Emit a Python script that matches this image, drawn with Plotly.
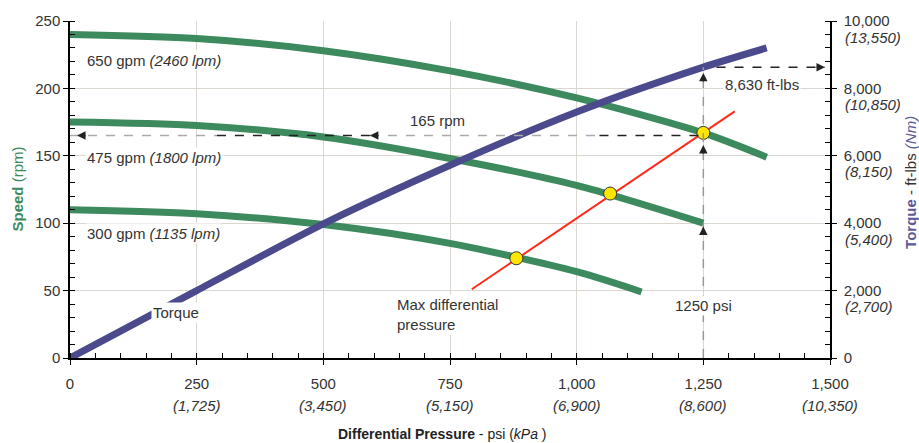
import plotly.graph_objects as go

# ---------------- data ----------------
psi_650 = [0, 250, 500, 750, 1000, 1250, 1375]
rpm_650 = [240, 237, 228, 213, 193, 167, 149]
psi_475 = [0, 250, 500, 750, 1000, 1250]
rpm_475 = [175, 172.5, 164, 148, 128, 100]
psi_300 = [0, 250, 500, 750, 1000, 1128]
rpm_300 = [110, 107, 99, 85, 64, 49]
psi_torque = [0, 250, 500, 750, 1000, 1250, 1375]
torque_ftlb = [0, 2000, 3980, 5720, 7300, 8630, 9200]
psi_maxdiff = [793, 1312]
rpm_maxdiff = [51, 183]
psi_points = [881, 1066, 1250]
rpm_points = [74, 122, 167]

x_ticks = [0, 250, 500, 750, 1000, 1250, 1500]
x_ticktext = ["0", "250", "500", "750", "1,000", "1,250", "1,500"]
x_kpa = ["", "(1,725)", "(3,450)", "(5,150)", "(6,900)", "(8,600)", "(10,350)"]
y_ticks = [0, 50, 100, 150, 200, 250]
y2_ticks = [0, 2000, 4000, 6000, 8000, 10000]
y2_ticktext = ["0", "2,000", "4,000", "6,000", "8,000", "10,000"]
y2_nm = ["", "(2,700)", "(5,400)", "(8,150)", "(10,850)", "(13,550)"]

sel_psi = 1250
sel_rpm = 165
sel_torque = 8630

GREEN = "#3d8a5f"
PURPLE = "#4a4a8c"
RED = "#ff2a1a"
GRID = "#dcd6d1"
TXT = "#333333"
FONT = "Liberation Sans, Arial, sans-serif"
FS = 15

fig = go.Figure()

for xs, ys in [(psi_650, rpm_650), (psi_475, rpm_475), (psi_300, rpm_300)]:
    fig.add_trace(go.Scatter(x=xs, y=ys, mode="lines", line=dict(color=GREEN, width=7, shape="spline", smoothing=0.8),
                             hoverinfo="skip", showlegend=False))

fig.add_trace(go.Scatter(x=psi_torque, y=torque_ftlb, yaxis="y2", mode="lines",
                         line=dict(color=PURPLE, width=7, shape="spline", smoothing=0.8),
                         hoverinfo="skip", showlegend=False))

fig.add_trace(go.Scatter(x=psi_maxdiff, y=rpm_maxdiff, mode="lines", line=dict(color=RED, width=2),
                         hoverinfo="skip", showlegend=False))

fig.add_trace(go.Scatter(x=psi_points, y=rpm_points, mode="markers",
                         marker=dict(color="#ffe600", size=13, line=dict(color="#333333", width=1)),
                         hoverinfo="skip", showlegend=False))

# ---------------- dashed guide lines ----------------
sel_rpm_top = sel_torque / 40.0
shapes = []
shapes.append(dict(type="line", xref="x", yref="y", x0=sel_psi, x1=sel_psi, y0=0, y1=sel_rpm_top,
                   line=dict(color="#999999", width=1.5, dash="dash"), layer="above"))
hsegs = [(0, 290, "#aaaaaa"), (290, 592, "#222222"), (592, 1045, "#aaaaaa"), (1045, sel_psi, "#222222")]
for a, b, c in hsegs:
    shapes.append(dict(type="line", xref="x", yref="y", x0=a, x1=b, y0=sel_rpm, y1=sel_rpm,
                       line=dict(color=c, width=1.5, dash="dash"), layer="above"))
shapes.append(dict(type="line", xref="x", yref="y2", x0=1276, x1=1490, y0=sel_torque, y1=sel_torque,
                   line=dict(color="#222222", width=1.5, dash="dash"), layer="above"))

ann = []
def arrowhead(x, y, ax, ay, yref="y", color="#222222"):
    ann.append(dict(x=x, y=y, xref="x", yref=yref, ax=ax, ay=ay, text="", showarrow=True,
                    arrowhead=2, arrowsize=1.3, arrowwidth=1.3, arrowcolor=color))

arrowhead(1250, 97.5, 0, 10)
arrowhead(1250, 158, 0, 10)
arrowhead(1250, 211.5, 0, 10)
arrowhead(592, sel_rpm, 10, 0)
arrowhead(14, sel_rpm, 10, 0)
arrowhead(1490, sel_torque, -10, 0, yref="y2")

def label(x, y, text, xanchor="left", bg="white", color=TXT, size=FS, yref="y", align="left"):
    ann.append(dict(x=x, y=y, xref="x", yref=yref, text=text, showarrow=False, xanchor=xanchor,
                    yanchor="middle", align=align, bgcolor=bg, borderpad=1,
                    font=dict(family=FONT, size=size, color=color)))

label(30, 220.5, "650 gpm <i>(2460 lpm)</i>")
label(30, 148.5, "475 gpm <i>(1800 lpm)</i>")
label(30, 92.5, "300 gpm <i>(1135 lpm)</i>")
label(209, 34, "Torque", xanchor="center")
label(641, 32, "Max differential<br>pressure")
label(726, 176.5, "165 rpm", xanchor="center", bg="rgba(0,0,0,0)")
label(1251, 39, "1250 psi", xanchor="center")
label(1365, 203, "8,630 ft-lbs", xanchor="center")

for xv, t in zip(x_ticks, x_kpa):
    if t:
        ann.append(dict(x=xv, y=0, xref="x", yref="paper", yshift=-47, text="<i>" + t + "</i>",
                        showarrow=False, xanchor="center", yanchor="middle",
                        font=dict(family=FONT, size=FS, color=TXT)))
for yv, t in zip(y2_ticks, y2_nm):
    if t:
        ann.append(dict(x=1, y=yv, xref="paper", yref="y2", xshift=13, yshift=-16, text="<i>" + t + "</i>",
                        showarrow=False, xanchor="left", yanchor="middle",
                        font=dict(family=FONT, size=FS, color=TXT)))

ann.append(dict(x=0.49, y=0, xref="paper", yref="paper", yshift=-76, showarrow=False,
                text="<b>Differential Pressure</b> - psi (<i>kPa</i> )", xanchor="center", yanchor="middle",
                font=dict(family=FONT, size=14, color="#222222")))
ann.append(dict(x=-0.0697, y=0.5, xref="paper", yref="paper", showarrow=False, textangle=-90,
                text="<b>Speed</b> (rpm)", xanchor="center", yanchor="middle",
                font=dict(family=FONT, size=FS, color=GREEN)))
ann.append(dict(x=1.105, y=0.522, xref="paper", yref="paper", showarrow=False, textangle=-90,
                text="<b>Torque</b><span style='color:#333333'> - ft-lbs </span><i>(Nm)</i>",
                xanchor="center", yanchor="middle",
                font=dict(family=FONT, size=FS, color="#5a5a9a")))

tickfont = dict(family=FONT, size=FS, color=TXT)
common_minor = dict(ticks="inside", ticklen=5, tickcolor="black", tickwidth=1, showgrid=False)

fig.update_layout(
    width=919, height=443,
    margin=dict(l=70, r=89, t=17, b=85),
    plot_bgcolor="white", paper_bgcolor="white",
    showlegend=False,
    shapes=shapes, annotations=ann,
    xaxis=dict(range=[0, 1500], tickvals=x_ticks, ticktext=x_ticktext, ticks="outside", ticklen=5,
               tickcolor="black", tickwidth=1, showline=True, linecolor="black", linewidth=1.5,
               showgrid=True, gridcolor=GRID, gridwidth=1, zeroline=False, tickfont=tickfont,
               ticklabelstandoff=6,
               minor=dict(dtick=50, **common_minor)),
    yaxis=dict(range=[0, 250], tickvals=y_ticks, ticks="outside", ticklen=5, tickcolor="black",
               tickwidth=1, showline=True, linecolor="black", linewidth=1.5, showgrid=True,
               gridcolor=GRID, gridwidth=1, zeroline=False, tickfont=tickfont,
               minor=dict(dtick=10, **common_minor)),
    yaxis2=dict(range=[0, 10000], overlaying="y", side="right", anchor="x", tickvals=y2_ticks,
                ticktext=y2_ticktext, ticks="outside", ticklen=5, tickcolor="black", tickwidth=1,
                showline=True, linecolor="black", linewidth=1.5, showgrid=False, zeroline=False,
                tickfont=tickfont, ticklabelstandoff=4,
                minor=dict(dtick=400, **common_minor)),
    xaxis3=dict(range=[0, 1500], overlaying="x", anchor="y", tickvals=x_ticks, ticks="inside",
                ticklen=5, tickcolor="black", tickwidth=1, showticklabels=False, showgrid=False,
                showline=False, zeroline=False),
    yaxis3=dict(range=[0, 250], overlaying="y", anchor="x", side="left", tickvals=y_ticks, ticks="inside",
                ticklen=5, tickcolor="black", tickwidth=1, showticklabels=False, showgrid=False,
                showline=False, zeroline=False),
    yaxis4=dict(range=[0, 10000], overlaying="y", anchor="x", side="right", tickvals=y2_ticks,
                ticks="inside", ticklen=5, tickcolor="black", tickwidth=1, showticklabels=False,
                showgrid=False, showline=False, zeroline=False),
)

fig.write_html("out.html")
